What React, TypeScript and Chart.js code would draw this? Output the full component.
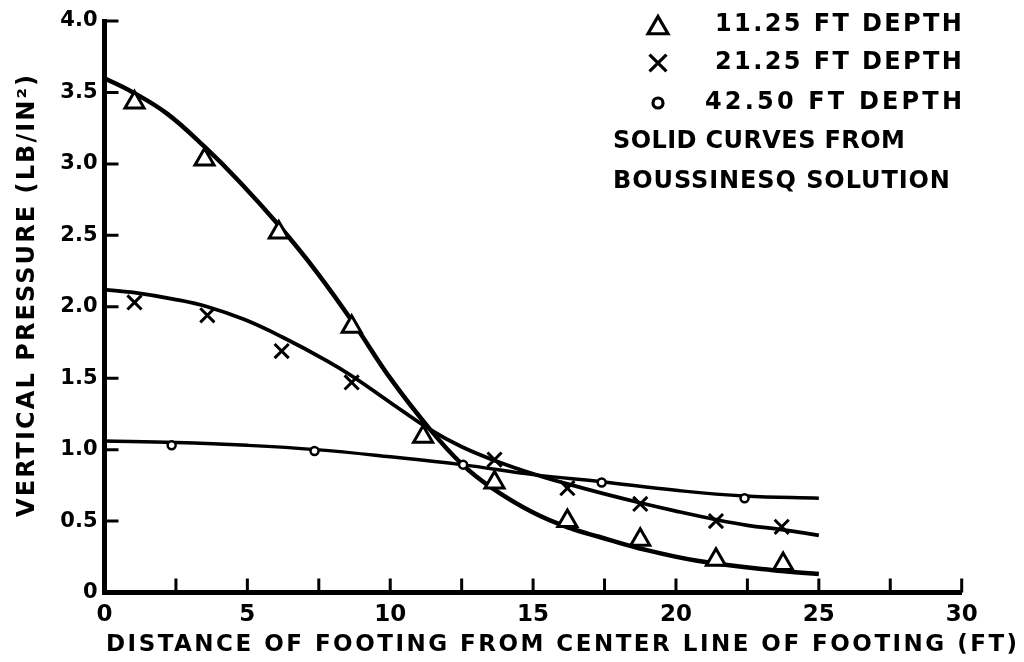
import React, { useEffect, useRef } from 'react';
import { Chart, registerables } from 'chart.js';

Chart.register(...registerables);

// ---- Boussinesq solution curves ----
const curve1125X = [0, 1, 2.2, 3.5, 4.75, 6.1, 7.4, 8.7, 10, 11.4, 12.5, 13.5, 15, 16.3, 17.3, 18.7, 20.8, 23.7, 25];
const curve1125Y = [3.6, 3.5, 3.35, 3.12, 2.87, 2.57, 2.25, 1.89, 1.5, 1.14, 0.9, 0.74, 0.56, 0.45, 0.39, 0.31, 0.22, 0.15, 0.13];

const curve2125X = [0, 1, 2.5, 3.6, 4.9, 6.2, 7.8, 8.7, 10, 11.4, 12.5, 13.7, 15, 16.2, 17.5, 18.7, 20, 21.4, 22.5, 23.7, 25];
const curve2125Y = [2.12, 2.1, 2.05, 2.0, 1.91, 1.79, 1.62, 1.51, 1.33, 1.14, 1.02, 0.92, 0.83, 0.76, 0.69, 0.63, 0.57, 0.51, 0.47, 0.44, 0.4];

const curve4250X = [0, 2.5, 5, 7.4, 10, 12.5, 15, 17.4, 20, 22.4, 25];
const curve4250Y = [1.06, 1.05, 1.03, 1.0, 0.95, 0.895, 0.825, 0.775, 0.715, 0.675, 0.66];

// ---- Measured points ----
const obs1125X = [1.05, 3.5, 6.1, 8.65, 11.15, 13.65, 16.2, 18.75, 21.4, 23.75];
const obs1125Y = [3.43, 3.03, 2.52, 1.86, 1.09, 0.77, 0.5, 0.37, 0.23, 0.2];

const obs2125X = [1.05, 3.6, 6.2, 8.65, 13.65, 16.2, 18.75, 21.4, 23.7];
const obs2125Y = [2.03, 1.94, 1.69, 1.47, 0.93, 0.73, 0.62, 0.5, 0.46];

const obs4250X = [2.35, 7.35, 12.55, 17.4, 22.4];
const obs4250Y = [1.03, 0.99, 0.895, 0.77, 0.66];

// ---- Axis labels / texts ----
const xTickLabels = ['0', '5', '10', '15', '20', '25', '30'];
const yTickLabels = ['0', '0.5', '1.0', '1.5', '2.0', '2.5', '3.0', '3.5', '4.0'];
const xTitle = 'DISTANCE OF FOOTING FROM CENTER LINE OF FOOTING (FT)';
const yTitle = 'VERTICAL PRESSURE (LB/IN\u00B2)';
const seriesNames = ['11.25 FT DEPTH', '21.25 FT DEPTH', '42.50 FT DEPTH'];
const noteLines = ['SOLID CURVES FROM', 'BOUSSINESQ SOLUTION'];

const FONT = '"DejaVu Sans", "Liberation Sans", sans-serif';

const toPts = (xs: number[], ys: number[]) => xs.map((x, i) => ({ x, y: ys[i] }));

function drawFitted(
  ctx: CanvasRenderingContext2D,
  text: string,
  left: number,
  y: number,
  width: number
) {
  ctx.fillStyle = '#000';
  (ctx as any).letterSpacing = '0px';
  const w0 = ctx.measureText(text).width;
  const ls = (width - w0) / Math.max(1, text.length - 1);
  (ctx as any).letterSpacing = ls.toFixed(2) + 'px';
  ctx.textAlign = 'left';
  ctx.fillText(text, left, y);
  (ctx as any).letterSpacing = '0px';
}

function drawMarker(ctx: CanvasRenderingContext2D, style: string, x: number, y: number, r: number) {
  ctx.beginPath();
  if (style === 'triangle') {
    for (let k = 0; k < 3; k++) {
      const a = (k * 2 * Math.PI) / 3;
      const px = x + Math.sin(a) * r;
      const py = y - Math.cos(a) * r;
      if (k === 0) ctx.moveTo(px, py);
      else ctx.lineTo(px, py);
    }
    ctx.closePath();
    ctx.fillStyle = '#fff';
    ctx.fill();
    ctx.stroke();
  } else if (style === 'crossRot') {
    const d = r * Math.SQRT1_2;
    ctx.moveTo(x - d, y - d);
    ctx.lineTo(x + d, y + d);
    ctx.moveTo(x - d, y + d);
    ctx.lineTo(x + d, y - d);
    ctx.stroke();
  } else {
    ctx.arc(x, y, r, 0, Math.PI * 2);
    ctx.fillStyle = '#fff';
    ctx.fill();
    ctx.stroke();
  }
}

const decorPlugin = {
  id: 'decor',
  beforeDatasetsDraw(chart: any) {
    const { ctx, chartArea } = chart;
    const xs = chart.scales.x;
    const ys = chart.scales.y;
    ctx.save();
    ctx.strokeStyle = '#000';
    ctx.lineWidth = 3;
    ctx.beginPath();
    xs.ticks.forEach((t: any) => {
      if (t.value === 0) return;
      const px = xs.getPixelForValue(t.value);
      ctx.moveTo(px, chartArea.bottom);
      ctx.lineTo(px, chartArea.bottom - 14);
    });
    ys.ticks.forEach((t: any) => {
      if (t.value === 0) return;
      const py = ys.getPixelForValue(t.value);
      ctx.moveTo(chartArea.left, py);
      ctx.lineTo(chartArea.left + 14, py);
    });
    ctx.stroke();
    ctx.restore();
  },
  afterDraw(chart: any) {
    const { ctx } = chart;
    ctx.save();
    ctx.fillStyle = '#000';
    ctx.strokeStyle = '#000';
    ctx.textBaseline = 'middle';

    // x axis title
    ctx.font = `bold 23px ${FONT}`;
    drawFitted(ctx, xTitle, 106, 645, 911);

    // y axis title (rotated)
    ctx.save();
    ctx.translate(28, 296);
    ctx.rotate(-Math.PI / 2);
    ctx.font = `bold 24px ${FONT}`;
    drawFitted(ctx, yTitle, -221, 0, 442);
    ctx.restore();

    // legend
    ctx.font = `bold 24px ${FONT}`;
    const rowY = [25, 63, 103];
    const widths = [247, 247, 257];
    const styles = ['triangle', 'crossRot', 'circle'];
    const radii = [11.5, 12, 5];
    seriesNames.forEach((name, i) => {
      drawFitted(ctx, name, 962 - widths[i], rowY[i], widths[i]);
      ctx.lineWidth = 3.2;
      drawMarker(ctx, styles[i], 658, rowY[i] + (i === 0 ? 3 : 0), radii[i]);
    });
    drawFitted(ctx, noteLines[0], 613, 142, 292);
    drawFitted(ctx, noteLines[1], 613, 182, 337);
    ctx.restore();
  },
};

export default function App() {
  const ref = useRef<HTMLCanvasElement>(null);

  useEffect(() => {
    const canvas = ref.current;
    if (!canvas) return;
    const black = '#000';
    const chart = new Chart(canvas, {
      type: 'scatter',
      data: {
        datasets: [
          {
            type: 'scatter',
            label: seriesNames[0],
            data: toPts(obs1125X, obs1125Y),
            pointStyle: 'triangle',
            pointRadius: 11,
            pointBorderWidth: 3,
            backgroundColor: '#fff',
            borderColor: black,
            pointBackgroundColor: '#fff',
            pointBorderColor: black,
          },
          {
            type: 'scatter',
            label: seriesNames[1],
            data: toPts(obs2125X, obs2125Y),
            pointStyle: 'crossRot',
            pointRadius: 10,
            pointBorderWidth: 3,
            backgroundColor: black,
            borderColor: black,
            pointBorderColor: black,
          },
          {
            type: 'scatter',
            label: seriesNames[2],
            data: toPts(obs4250X, obs4250Y),
            pointStyle: 'circle',
            pointRadius: 4,
            pointBorderWidth: 2.5,
            backgroundColor: '#fff',
            borderColor: black,
            pointBackgroundColor: '#fff',
            pointBorderColor: black,
          },
          {
            type: 'line',
            label: 'Boussinesq 11.25 ft',
            data: toPts(curve1125X, curve1125Y),
            borderColor: black,
            borderWidth: 4.5,
            pointRadius: 0,
            tension: 0.4,
            fill: false,
          },
          {
            type: 'line',
            label: 'Boussinesq 21.25 ft',
            data: toPts(curve2125X, curve2125Y),
            borderColor: black,
            borderWidth: 3.8,
            pointRadius: 0,
            tension: 0.4,
            fill: false,
          },
          {
            type: 'line',
            label: 'Boussinesq 42.50 ft',
            data: toPts(curve4250X, curve4250Y),
            borderColor: black,
            borderWidth: 3.5,
            pointRadius: 0,
            tension: 0.4,
            fill: false,
          },
        ] as any,
      },
      options: {
        animation: false,
        responsive: true,
        maintainAspectRatio: false,
        layout: { padding: { left: 0, top: 21, right: 62.3, bottom: 0 } },
        plugins: {
          legend: { display: false },
          tooltip: { enabled: false },
          title: { display: false },
        },
        scales: {
          x: {
            type: 'linear',
            min: 0,
            max: 30,
            grid: { display: false, drawTicks: false },
            border: { display: true, color: black, width: 5 },
            ticks: {
              stepSize: 2.5,
              autoSkip: false,
              maxRotation: 0,
              padding: 9,
              color: black,
              font: { family: FONT, size: 23, weight: 'bold' },
              callback: (v: any) => {
                const n = Number(v);
                return Math.abs(n % 5) < 1e-9 ? xTickLabels[Math.round(n / 5)] : '';
              },
            },
            afterFit: (s: any) => {
              s.height = 69.5;
            },
          },
          y: {
            type: 'linear',
            min: 0,
            max: 4,
            grid: { display: false, drawTicks: false },
            border: { display: true, color: black, width: 5 },
            ticks: {
              stepSize: 0.5,
              autoSkip: false,
              padding: 7,
              color: black,
              font: { family: FONT, size: 21, weight: 'bold' },
              callback: (v: any) => yTickLabels[Math.round(Number(v) / 0.5)],
            },
            afterFit: (s: any) => {
              s.width = 104.5;
            },
          },
        },
      } as any,
      plugins: [decorPlugin],
    });
    return () => chart.destroy();
  }, []);

  return (
    <div
      style={{
        position: 'fixed',
        left: 0,
        top: 0,
        width: 1024,
        height: 662,
        background: '#fff',
      }}
    >
      <canvas ref={ref} />
    </div>
  );
}
